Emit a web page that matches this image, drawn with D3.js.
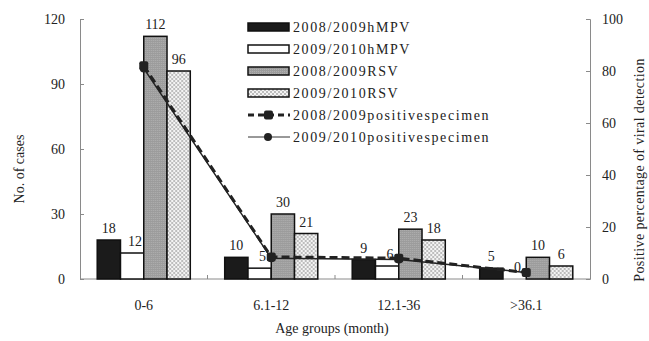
<!DOCTYPE html>
<html>
<head>
<meta charset="utf-8">
<script src="https://cdn.jsdelivr.net/npm/d3@7"></script>
<style>
  body { margin: 0; background: #fff; }
  text { font-family: "Liberation Serif", "Times New Roman", serif; fill: #222; }
</style>
</head>
<body>
<div id="chart"></div>
<script>
const ageGroups = ['0-6', '6.1-12', '12.1-36', '>36.1']
const seriesNames = ['2008/2009hMPV', '2009/2010hMPV', '2008/2009RSV', '2009/2010RSV']
const hmpv0809 = [18, 10, 9, 5]
const hmpv0910 = [12, 5, 6, 0]
const rsv0809 = [112, 30, 23, 10]
const rsv0910 = [96, 21, 18, 6]
const lineNames = ['2008/2009positivespecimen', '2009/2010positivespecimen']
const pos0809 = [82, 8.5, 8, 2.5]
const pos0910 = [81, 8, 7.5, 2.5]
const leftTicks = [0, 30, 60, 90, 120]
const rightTicks = [0, 20, 40, 60, 80, 100]

const width = 649
const height = 341
const margin = { top: 19, right: 59, bottom: 62, left: 80 }

const svg = d3.select('#chart').append('svg').attr('width', width).attr('height', height)

// patterns
const defs = svg.append('defs')
const grayPat = defs.append('pattern').attr('id', 'grayPat')
	.attr('width', 2).attr('height', 2).attr('patternUnits', 'userSpaceOnUse')
grayPat.append('rect').attr('width', 2).attr('height', 2).attr('fill', '#9c9c9c')
grayPat.append('rect').attr('width', 1).attr('height', 1).attr('fill', '#b0b0b0')
const checkPat = defs.append('pattern').attr('id', 'checkPat')
	.attr('width', 4).attr('height', 4).attr('patternUnits', 'userSpaceOnUse')
checkPat.append('rect').attr('width', 4).attr('height', 4).attr('fill', '#f4f4f4')
checkPat.append('rect').attr('width', 2).attr('height', 2).attr('fill', '#bdbdbd')
checkPat.append('rect').attr('x', 2).attr('y', 2).attr('width', 2).attr('height', 2).attr('fill', '#bdbdbd')

const fills = ['#1b1b1b', '#ffffff', 'url(#grayPat)', 'url(#checkPat)']

const x0 = d3.scaleBand().domain(ageGroups)
	.range([margin.left, width - margin.right])
	.paddingInner(0.27).paddingOuter(0.135)
const x1 = d3.scaleBand().domain(d3.range(4)).range([0, x0.bandwidth()])
const y = d3.scaleLinear().domain([0, 120]).range([height - margin.bottom, margin.top])
const y2 = d3.scaleLinear().domain([0, 100]).range([height - margin.bottom, margin.top])

const values = [hmpv0809, hmpv0910, rsv0809, rsv0910]
const rows = ageGroups.map((g, i) => values.map((v, s) => ({ g, s, v: v[i] })))

// axes
const axisColor = '#8a8a8a'
const left = svg.append('g').attr('transform', `translate(${margin.left},0)`)
	.call(d3.axisLeft(y).tickValues(leftTicks).tickSize(-4).tickPadding(15))
const right = svg.append('g').attr('transform', `translate(${width - margin.right},0)`)
	.call(d3.axisRight(y2).tickValues(rightTicks).tickSize(-4).tickPadding(12))
const bottom = svg.append('g').attr('transform', `translate(0,${height - margin.bottom})`)
	.call(d3.axisBottom(x0).tickSize(0).tickPadding(21))
bottom.append('g').selectAll('line')
	.data(ageGroups.slice(1))
	.join('line')
	.attr('x1', d => x0(d) - x0.step() * x0.paddingInner() / 2)
	.attr('x2', d => x0(d) - x0.step() * x0.paddingInner() / 2)
	.attr('y1', 0).attr('y2', -4)
	.attr('stroke', axisColor)

;[left, right, bottom].forEach(a => {
	a.selectAll('path, line').attr('stroke', axisColor)
	a.selectAll('text').style('font-size', '14px').attr('fill', '#333')
		.style('font-family', '"Liberation Serif", serif')
})
bottom.select('.domain').attr('d', `M${margin.left},0H${width - margin.right}`)

// bars
const groups = svg.append('g').selectAll('g')
	.data(rows)
	.join('g')
	.attr('transform', d => `translate(${x0(d[0].g)},0)`)

groups.selectAll('rect')
	.data(d => d)
	.join('rect')
	.attr('x', d => x1(d.s))
	.attr('width', x1.bandwidth())
	.attr('y', d => y(d.v))
	.attr('height', d => y(0) - y(d.v))
	.attr('fill', d => fills[d.s])
	.attr('stroke', '#111')
	.attr('stroke-width', 1.5)

groups.selectAll('text')
	.data(d => d)
	.join('text')
	.attr('x', d => x1(d.s) + x1.bandwidth() / 2 + (d.s === 1 ? 3 : 0))
	.attr('y', d => y(d.v) - 7)
	.attr('text-anchor', 'middle')
	.style('font-size', '14px')
	.text(d => d.v)

// lines
const cx = g => x0(g) + x0.bandwidth() / 2
const lineGen = d3.line().x((d, i) => cx(ageGroups[i])).y(d => y2(d))

svg.append('path').datum(pos0910)
	.attr('d', lineGen).attr('fill', 'none')
	.attr('stroke', '#222').attr('stroke-width', 1.5)
svg.append('g').selectAll('circle')
	.data(pos0910).join('circle')
	.attr('cx', (d, i) => cx(ageGroups[i])).attr('cy', d => y2(d))
	.attr('r', 4).attr('fill', '#222')

svg.append('path').datum(pos0809)
	.attr('d', lineGen).attr('fill', 'none')
	.attr('stroke', '#222').attr('stroke-width', 3).attr('stroke-dasharray', '8,4')
svg.append('g').selectAll('rect')
	.data(pos0809).join('rect')
	.attr('x', (d, i) => cx(ageGroups[i]) - 4.5).attr('y', d => y2(d) - 4.5)
	.attr('width', 9).attr('height', 9).attr('rx', 2).attr('fill', '#222')

// legend
const legend = svg.append('g').attr('transform', 'translate(248,27)')
const rowH = 22
const allNames = seriesNames.concat(lineNames)
const item = legend.selectAll('g').data(allNames).join('g')
	.attr('transform', (d, i) => `translate(0,${i * rowH})`)
item.filter((d, i) => i < 4).append('rect')
	.attr('x', 0).attr('y', -4).attr('width', 41).attr('height', 8)
	.attr('fill', (d, i) => fills[i]).attr('stroke', '#111').attr('stroke-width', 1.5)
item.filter((d, i) => i === 4).each(function () {
	const g = d3.select(this)
	g.append('line').attr('x1', 0).attr('x2', 42).attr('y1', 0).attr('y2', 0)
		.attr('stroke', '#222').attr('stroke-width', 3).attr('stroke-dasharray', '6,4')
	g.append('rect').attr('x', 16).attr('y', -4.5).attr('width', 9).attr('height', 9)
		.attr('rx', 2).attr('fill', '#222')
})
item.filter((d, i) => i === 5).each(function () {
	const g = d3.select(this)
	g.append('line').attr('x1', 0).attr('x2', 42).attr('y1', 0).attr('y2', 0)
		.attr('stroke', '#333').attr('stroke-width', 1)
	g.append('circle').attr('cx', 20).attr('cy', 0).attr('r', 4).attr('fill', '#222')
})
item.append('text')
	.attr('x', 45).attr('y', 5)
	.style('font-size', '14px').style('letter-spacing', '1.6px')
	.text(d => d)

// axis titles
svg.append('text')
	.attr('transform', `translate(24,${(margin.top + height - margin.bottom) / 2 + 20}) rotate(-90)`)
	.attr('text-anchor', 'middle').style('font-size', '14px')
	.text('No. of cases')
svg.append('text')
	.attr('transform', `translate(644,${(margin.top + height - margin.bottom) / 2 + 21}) rotate(-90)`)
	.attr('text-anchor', 'middle').style('font-size', '14px').style('letter-spacing', '0.4px')
	.text('Positive percentage of viral detection')
svg.append('text')
	.attr('x', 332).attr('y', 333)
	.attr('text-anchor', 'middle').style('font-size', '14px')
	.text('Age groups (month)')
</script>
</body>
</html>
